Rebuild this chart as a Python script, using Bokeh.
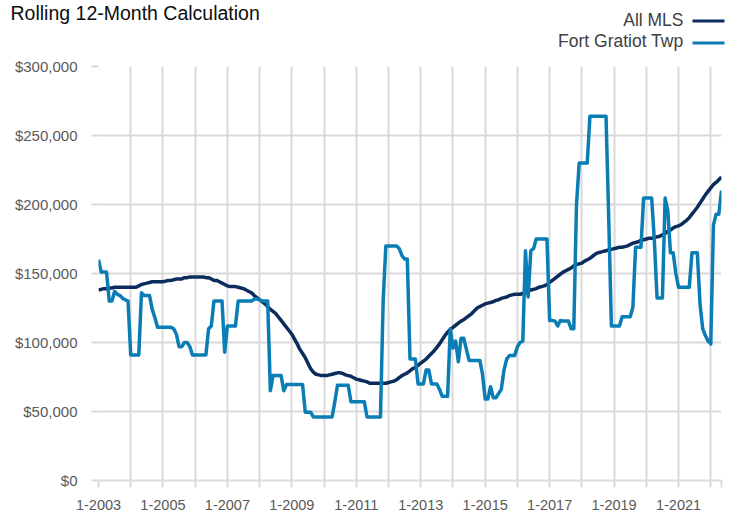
from bokeh.plotting import figure
from bokeh.layouts import column
from bokeh.models import Range1d, FixedTicker, NumeralTickFormatter, ColumnDataSource
from bokeh.embed import file_html
from bokeh.resources import INLINE
from bokeh.core.properties import value

# ---------------- data ----------------
title_text = "Rolling 12-Month Calculation"
series_names = ["All MLS", "Fort Gratiot Twp"]
series_colors = ["#0b2c5c", "#0a7db5"]
start_year = 2003

# Rolling 12-month median sales price, thousands of dollars, monthly from 1-2003 to 5-2022
all_mls_k = [
    138, 138.5, 139, 139, 139.5, 139.5, 140, 140, 140, 140, 140, 140,            # 2003
    140, 140, 140, 141, 142, 142.5, 143, 143.5, 144, 144, 144, 144,              # 2004
    144, 144.5, 145, 145, 145.5, 146, 146, 146, 147, 147, 147.5, 147.5,          # 2005
    147.5, 147.5, 147.5, 147.5, 147, 147, 146, 145, 145, 144, 143, 142,          # 2006
    141, 140.5, 140.5, 140.5, 140, 139.5, 139, 138, 137, 136, 134, 132.5,        # 2007
    131, 129.5, 128, 126, 124, 122.5, 121, 118.5, 116, 113.5, 111, 108.5,        # 2008
    106, 102.5, 99, 95, 92, 89, 85, 81, 78.5, 77, 76.5, 76,                      # 2009
    76, 76, 76.5, 77, 77.5, 78, 78, 77.5, 76.5, 76, 75.5, 74.5,                  # 2010
    73.5, 73, 72.5, 72, 71.5, 70.5, 70.5, 70.5, 70.5, 70.5, 70.5, 70.5,          # 2011
    71, 71.5, 72, 73, 74.5, 76, 77, 78, 79.5, 81, 82, 83.5,                      # 2012
    85, 86.5, 88, 90, 92, 94, 96.5, 99, 102, 105, 107.5, 109.5,                  # 2013
    111, 112.5, 114, 115.5, 116.5, 118, 119.5, 121, 123, 125, 126, 127,          # 2014
    128, 128.5, 129, 129.5, 130.5, 131, 132, 132.5, 133, 134, 134.5, 135,        # 2015
    135, 135, 135.5, 136, 137, 138, 138.5, 139, 140, 140.5, 141, 142,            # 2016
    143.5, 145, 146.5, 148, 149.5, 151, 152, 153, 154, 155.5, 156.5, 157,        # 2017
    157.5, 159, 160, 161, 162.5, 164, 165, 165.5, 166, 166.5, 167, 167.5,        # 2018
    168, 168.5, 169, 169, 169.5, 170, 171, 172, 172.5, 173, 174, 174.5,          # 2019
    175, 175.5, 175.5, 176, 176.5, 177, 178, 179, 180.5, 181.5, 183, 184,        # 2020
    184.5, 185.5, 187, 188.5, 190.5, 193, 195.5, 198, 201, 204, 207, 209.5,      # 2021
    212, 214.5, 216, 218, 220,                                                   # 2022
]

fort_gratiot_k = [
    160, 151, 151, 151, 130, 130, 137, 135, 134, 132, 131, 130,                  # 2003
    91, 91, 91, 91, 136, 134, 134, 134, 124, 118, 111, 111,                      # 2004
    111, 111, 111, 111, 110, 106, 97, 97, 100, 100, 97, 91,                      # 2005
    91, 91, 91, 91, 91, 110, 112, 130, 130, 130, 130, 93,                        # 2006
    112, 112, 112, 112, 130, 130, 130, 130, 130, 130, 131.5, 131.5,              # 2007
    131, 130, 130, 130, 65, 76, 76, 76, 76, 65, 69.5, 69.5,                      # 2008
    69.5, 69.5, 69.5, 69.5, 69.5, 49.5, 49.5, 49.5, 46, 46, 46, 46,              # 2009
    46, 46, 46, 46, 57, 69, 69, 69, 69, 69, 57, 57,                              # 2010
    57, 57, 57, 57, 46, 46, 46, 46, 46, 46, 130, 170,                            # 2011
    170, 170, 170, 170, 168, 163, 160.5, 160.5, 88, 88, 88, 70,                  # 2012
    70, 70, 80, 80, 70, 70, 70, 66, 61, 61, 61, 110,                             # 2013
    96, 101, 86, 103, 103, 95, 87, 87, 87, 87, 87, 77,                           # 2014
    59, 59, 68, 60, 60, 63, 66, 80, 88, 90.5, 90.5, 90.5,                        # 2015
    97, 100, 101, 166.5, 133, 166.5, 168, 175, 175, 175, 175, 175,               # 2016
    116, 116, 115.5, 112, 116, 115.5, 115.5, 115.5, 110, 110, 200, 230,          # 2017
    230, 230, 230, 264, 264, 264, 264, 264, 264, 264, 190, 112,                  # 2018
    112, 112, 112, 118.7, 118.7, 118.7, 118.7, 125.5, 169, 169, 169, 204.7,      # 2019
    204.7, 204.7, 204.7, 173.8, 132.3, 132.3, 132.3, 204.7, 195.5, 165, 165, 150,  # 2020
    140, 140, 140, 140, 140, 165, 165, 165, 128, 110, 105, 101,                  # 2021
    99, 185, 193, 193, 210,                                                      # 2022
]

x_tick_labels = ["1-2003", "1-2005", "1-2007", "1-2009", "1-2011", "1-2013",
                 "1-2015", "1-2017", "1-2019", "1-2021"]
y_ticks = [0, 50000, 100000, 150000, 200000, 250000, 300000]

# ---------------- derived ----------------
n = len(all_mls_k)
month_labels = [f"{i % 12 + 1}-{start_year + i // 12}" for i in range(n)]
x_idx = list(range(n))
src = ColumnDataSource(dict(
    x=x_idx,
    mls=[v * 1000 for v in all_mls_k],
    fort=[v * 1000 for v in fort_gratiot_k],
))

tick_pos = [i for i in x_idx if i % 12 == 0] + [n - 1]
overrides = {i: (month_labels[i] if month_labels[i] in x_tick_labels else "") for i in tick_pos}

FONT = "Liberation Sans"
GRID = "#d9d9d9"
W = 732
H = 515
HEAD_H = 56

# ---------------- header (title + legend) ----------------
head = figure(width=W, height=HEAD_H, x_range=Range1d(0, W), y_range=Range1d(HEAD_H, 0),
              x_axis_type=None, y_axis_type=None, output_backend="svg",
              toolbar_location=None, min_border=0)
head.frame_align = False
head.grid.visible = False
head.outline_line_color = None
head.text(x=[10], y=[12], text=[title_text], text_font=value(FONT), text_font_size="19.5px",
          text_baseline="middle", text_align="left", text_color="#0d0d0d")
head.text(x=[683, 683], y=[19, 40], text=series_names, text_font=value(FONT),
          text_font_size="17.5px", text_baseline="middle", text_align="right",
          text_color="#404040")
head.segment(x0=[692, 692], x1=[724, 724], y0=[20.5, 42.5], y1=[20.5, 42.5],
             line_color=series_colors, line_width=3)

# ---------------- main chart ----------------
p = figure(width=W, height=H - HEAD_H, x_range=Range1d(0, n - 1), y_range=Range1d(0, 300000),
           output_backend="svg", toolbar_location=None,
           min_border_left=98, min_border_right=11, min_border_top=10, min_border_bottom=35)
p.frame_align = False
p.outline_line_color = None
p.background_fill_color = "white"

p.line("x", "mls", source=src, line_color=series_colors[0], line_width=3.5, line_join="round")
p.line("x", "fort", source=src, line_color=series_colors[1], line_width=3.5, line_join="round")

p.xaxis.ticker = FixedTicker(ticks=tick_pos)
p.xaxis.major_label_overrides = overrides
p.yaxis.ticker = FixedTicker(ticks=y_ticks)
p.yaxis.formatter = NumeralTickFormatter(format="$0,0")

for ax in (p.xaxis[0], p.yaxis[0]):
    ax.major_tick_out = 7
    ax.major_tick_in = 0
    ax.major_tick_line_color = GRID
    ax.major_tick_line_width = 2
    ax.minor_tick_line_color = None
    ax.major_label_text_font = FONT
    ax.major_label_text_color = "#595959"

p.yaxis.major_label_text_font_size = "15px"
p.xaxis.major_label_text_font_size = "14.5px"
p.yaxis.axis_line_color = None
p.yaxis.major_label_standoff = 14
p.xaxis.axis_line_color = GRID
p.xaxis.axis_line_width = 2
p.xaxis.major_label_standoff = 12

p.grid.grid_line_color = GRID
p.grid.grid_line_width = 2

layout = column(head, p, spacing=0)
open("out.html", "w").write(file_html(layout, INLINE))
